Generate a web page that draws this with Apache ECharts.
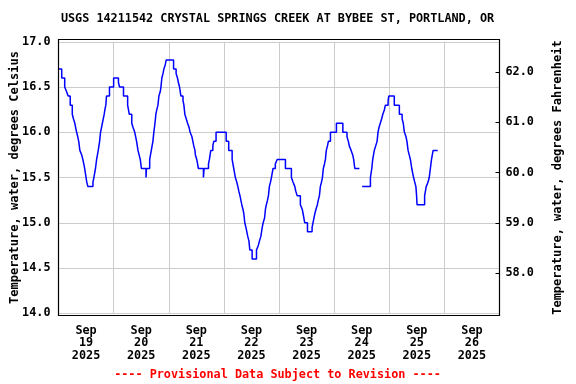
<!DOCTYPE html>
<html>
<head>
<meta charset="utf-8">
<script src="https://cdn.jsdelivr.net/npm/echarts@6/dist/echarts.min.js"></script>
<style>html,body{margin:0;padding:0;background:#fff;}#chart{width:576px;height:384px;}</style>
</head>
<body>
<div id="chart"></div>
<script>
// Hours since 2025-09-19 00:00, water temperature (deg C)
const rSep19 = [[0.0,16.70],[1.4,16.60],[2.7,16.50],[3.5,16.45],[4.2,16.40],[5.1,16.30],[6.0,16.20],[6.5,16.15],[7.1,16.10],[7.5,16.05],[7.9,16.00],[8.4,15.95],[8.8,15.90],[9.3,15.80],[10.1,15.75],[10.6,15.70],[11.0,15.65],[11.4,15.60],[11.7,15.55],[12.0,15.50],[12.3,15.45],[12.8,15.40],[15.0,15.45],[15.4,15.50],[16.1,15.60],[16.6,15.70],[17.3,15.80],[17.9,15.90],[18.3,16.00],[18.7,16.05],[19.1,16.10],[19.5,16.15],[19.9,16.20],[20.2,16.25],[20.6,16.30],[20.9,16.40],[22.2,16.50]];
const rSep20 = [[24.0,16.60],[26.1,16.55],[26.6,16.50],[28.3,16.40],[30.1,16.30],[30.8,16.20],[31.9,16.10],[32.5,16.05],[33.2,16.00],[34.0,15.90],[34.6,15.80],[35.1,15.75],[35.6,15.70],[36.1,15.60],[38.1,15.50],[38.3,15.60],[39.7,15.70],[40.4,15.80],[41.1,15.90],[41.5,16.00],[42.0,16.10],[42.4,16.20],[42.8,16.25],[43.3,16.30],[43.7,16.40],[44.3,16.45],[44.6,16.50],[45.0,16.60],[45.5,16.65],[45.9,16.70],[46.5,16.75],[46.9,16.80]];
const rSep21 = [[50.1,16.70],[51.2,16.65],[51.8,16.60],[52.2,16.55],[52.7,16.50],[53.3,16.40],[54.2,16.35],[54.6,16.30],[55.0,16.20],[55.6,16.15],[56.2,16.10],[56.9,16.05],[57.3,16.00],[58.1,15.95],[58.5,15.90],[58.9,15.85],[59.4,15.80],[59.6,15.75],[60.2,15.70],[60.9,15.60],[63.1,15.50],[63.4,15.60],[65.3,15.65],[65.7,15.70],[66.3,15.80],[67.2,15.85],[67.6,15.90],[68.6,16.00]];
const rSep22 = [[73.0,15.90],[74.1,15.80],[75.6,15.70],[76.3,15.60],[77.0,15.50],[77.6,15.45],[78.1,15.40],[78.5,15.35],[79.0,15.30],[79.4,15.25],[79.8,15.20],[80.3,15.15],[80.7,15.10],[81.1,15.00],[81.6,14.95],[82.0,14.90],[82.4,14.85],[82.9,14.80],[83.3,14.70],[84.3,14.60],[86.2,14.70],[87.0,14.75],[87.5,14.80],[88.1,14.85],[88.7,14.95],[89.1,15.00],[89.7,15.05],[90.1,15.15],[90.5,15.20],[91.0,15.25],[91.4,15.30],[91.8,15.40],[92.3,15.45],[92.7,15.50],[93.4,15.60],[94.4,15.65],[95.2,15.70]];
const rSep23 = [[98.8,15.60],[101.4,15.50],[102.1,15.45],[102.9,15.40],[103.3,15.35],[103.9,15.30],[105.3,15.20],[106.1,15.15],[106.5,15.10],[107.2,15.00],[108.4,14.90],[110.4,14.95],[110.8,15.00],[111.6,15.10],[112.1,15.15],[112.7,15.20],[113.1,15.25],[113.6,15.30],[114.0,15.40],[114.5,15.45],[114.9,15.50],[115.3,15.60],[115.8,15.65],[116.2,15.70],[116.6,15.80],[117.1,15.85],[117.5,15.90],[118.4,16.00]];
const rSep24 = [[121.0,16.10],[123.8,16.00],[125.6,15.95],[126.2,15.90],[126.6,15.85],[127.4,15.80],[128.1,15.75],[128.5,15.70],[129.0,15.60],[130.3,15.60],[131.0,null],[132.2,15.40],[135.8,15.50],[136.4,15.60],[136.8,15.70],[137.5,15.80],[138.1,15.85],[138.7,15.90],[139.1,16.00],[139.5,16.05],[140.1,16.10],[140.7,16.15],[141.2,16.20],[141.9,16.25],[142.3,16.30],[143.5,16.35],[143.8,16.40]];
const rSep25 = [[146.2,16.30],[148.4,16.20],[149.6,16.15],[150.1,16.10],[150.6,16.00],[151.3,15.95],[151.7,15.90],[152.2,15.80],[152.7,15.75],[153.2,15.70],[153.8,15.60],[154.2,15.55],[154.6,15.50],[155.1,15.45],[155.6,15.40],[155.9,15.30],[156.1,15.20],[159.4,15.30],[160.1,15.40],[160.9,15.45],[161.4,15.50],[161.9,15.60],[162.4,15.70],[163.1,15.80],[165.1,15.80]];

const dayLabels = ['19','20','21','22','23','24','25','26'];
const monthLabel = 'Sep';
const yearLabel = '2025';
const celsiusTicks = [14.0,14.5,15.0,15.5,16.0,16.5,17.0];
const fahrenheitTicks = [58.0,59.0,60.0,61.0,62.0];

const titleText = 'USGS 14211542 CRYSTAL SPRINGS CREEK AT BYBEE ST, PORTLAND, OR';
const footerText = '---- Provisional Data Subject to Revision ----';
const leftName = 'Temperature, water, degrees Celsius';
const rightName = 'Temperature, water, degrees Fahrenheit';

const data = [].concat(rSep19, rSep20, rSep21, rSep22, rSep23, rSep24, rSep25);
const noonHours = dayLabels.map((d, i) => i * 24 + 12);
const cMin = celsiusTicks[0], cMax = celsiusTicks[celsiusTicks.length - 1];
const FONT = 'DejaVu Sans Mono';
const txt = {fontFamily: FONT, fontWeight: 'bold', fontSize: 11.8, color: '#000'};

const chart = echarts.init(document.getElementById('chart'), null, {renderer: 'canvas'});
chart.setOption({
  animation: false,
  backgroundColor: '#fff',
  grid: {left: 58.5, right: 76.5, top: 41.8, bottom: 70.7, containLabel: false, outerBoundsMode: 'none'},
  xAxis: {
    type: 'value', min: 0, max: dayLabels.length * 24, interval: 24,
    axisLine: {show: false}, axisTick: {show: false},
    splitLine: {show: true, lineStyle: {color: '#cccccc', width: 1}},
    axisLabel: Object.assign({}, txt, {
      customValues: noonHours, margin: 11, lineHeight: 12.7, align: 'center',
      formatter: function (v) { const i = Math.round((v - 12) / 24); return monthLabel + '\n' + dayLabels[i] + '\n' + yearLabel; }
    })
  },
  yAxis: [{
    type: 'value', position: 'left', min: cMin, max: cMax, interval: 0.5,
    axisLine: {show: false}, axisTick: {show: false},
    splitLine: {show: true, lineStyle: {color: '#cccccc', width: 1}},
    axisLabel: Object.assign({}, txt, {margin: 8, formatter: v => v.toFixed(1)}),
    name: leftName, nameLocation: 'middle', nameRotate: 90, nameGap: 38, nameMoveOverlap: false,
    nameTextStyle: Object.assign({}, txt, {fontSize: 12})
  }, {
    type: 'value', position: 'right', min: cMin * 1.8 + 32, max: cMax * 1.8 + 32,
    alignTicks: false,
    axisLine: {show: false},
    axisTick: {show: true, inside: true, length: 4, customValues: fahrenheitTicks, lineStyle: {color: '#000', width: 1}},
    splitLine: {show: false},
    axisLabel: Object.assign({}, txt, {margin: 6, customValues: fahrenheitTicks, formatter: v => v.toFixed(1)}),
    name: rightName, nameLocation: 'middle', nameRotate: 90, nameGap: 52, nameMoveOverlap: false,
    nameTextStyle: Object.assign({}, txt, {fontSize: 12})
  }],
  graphic: [
    {type: 'rect', silent: true, z: 100, shape: {x: 58.5, y: 39.5, width: 441, height: 276}, style: {fill: 'none', stroke: '#000', lineWidth: 1.2}},
    {type: 'text', x: 277.5, y: 19, style: {text: titleText, fill: '#000', font: 'bold 11.8px "DejaVu Sans Mono"', textAlign: 'center', textVerticalAlign: 'middle'}},
    {type: 'text', x: 277.5, y: 375, style: {text: footerText, fill: '#ff0000', font: 'bold 11.8px "DejaVu Sans Mono"', textAlign: 'center', textVerticalAlign: 'middle'}}
  ],
  series: [{
    type: 'line', xAxisIndex: 0, yAxisIndex: 0, data: data, step: 'end',
    showSymbol: false, connectNulls: false, clip: true,
    lineStyle: {color: '#0000ff', width: 1.5}, itemStyle: {color: '#0000ff'}
  }]
});
</script>
</body>
</html>
